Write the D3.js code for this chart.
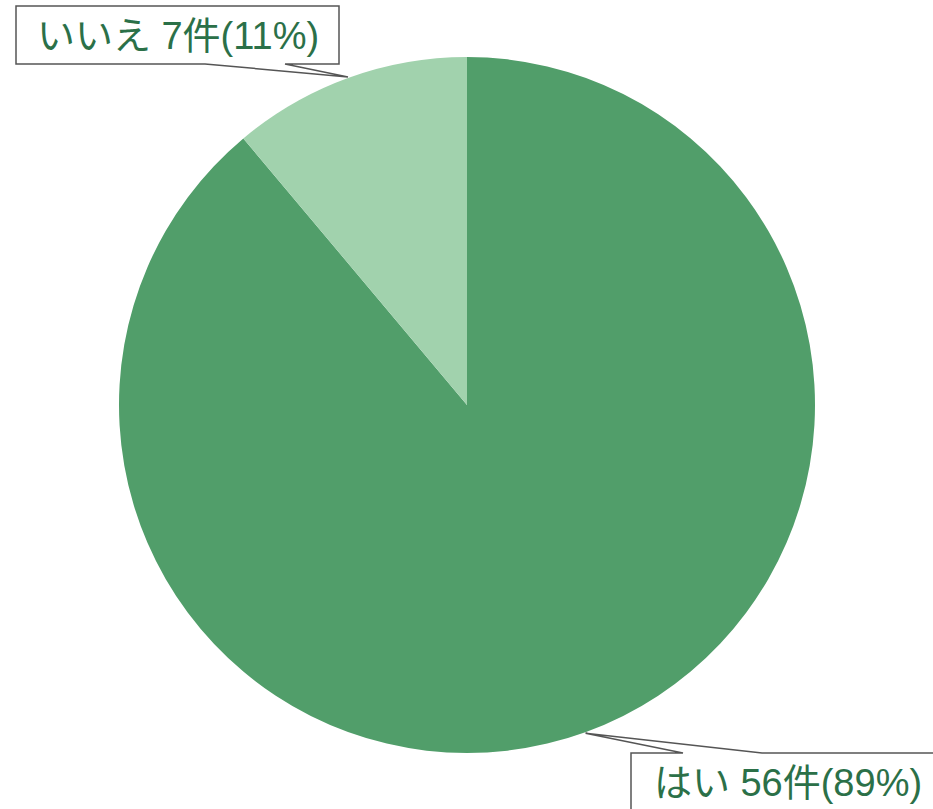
<!DOCTYPE html>
<html><head><meta charset="utf-8">
<script src="https://cdn.jsdelivr.net/npm/d3@7"></script>
<style>body{margin:0;background:#fff}svg{display:block}</style>
</head><body>
<svg id="c" width="933" height="809"></svg>
<script>
const categories = ["はい", "いいえ"];
const counts = [56, 7];
const percents = [89, 11];
const colors = ["#519e6a", "#a1d2ad"];

const svg = d3.select("#c");
const cx = 467, cy = 405, r = 348;
const g = svg.append("g").attr("transform", `translate(${cx},${cy})`);
const data = categories.map((c, i) => ({cat: c, v: counts[i], p: percents[i], col: colors[i]}));
const pie = d3.pie().value(d => d.v).sort(null);
const arcs = pie(data);
const arc = d3.arc().innerRadius(0).outerRadius(r);
g.selectAll("path").data(arcs).enter().append("path")
  .attr("d", arc).attr("fill", d => d.data.col);

const font = "'Liberation Sans', Arial, 'Noto Sans CJK JP', sans-serif";
function pt(a, rr) { return [cx + rr * Math.sin(a), cy - rr * Math.cos(a)]; }
const callouts = [
  {i: 1, box: [16, 6, 339, 64], side: "bottom", base: [205, 285], tipAngle: -0.348, tx: 178, ty: 49},
  {i: 0, box: [631, 753, 960, 830], side: "top", base: [683, 762], tipAngle: 2.795, tx: 788, ty: 796}
];
callouts.forEach(c => {
  const a = arcs[c.i];
  const tip = pt(c.tipAngle, r + 1);
  const [x0, y0, x1, y1] = c.box;
  let pts;
  if (c.side === "bottom") {
    pts = [[x0, y0], [x1, y0], [x1, y1], [c.base[1], y1], tip, [c.base[0], y1], [x0, y1]];
  } else {
    pts = [[x0, y0], [c.base[0], y0], tip, [c.base[1], y0], [x1, y0], [x1, y1], [x0, y1]];
  }
  svg.append("path").attr("d", d3.line()(pts) + "Z")
    .attr("fill", "#fff").attr("stroke", "#555").attr("stroke-width", 1.5);
  svg.append("text").attr("x", c.tx).attr("y", c.ty).attr("text-anchor", "middle")
    .attr("font-family", font).attr("font-size", 38).attr("fill", "#2b7048")
    .text(`${a.data.cat} ${a.data.v}件(${a.data.p}%)`);
});
</script>
</body></html>
